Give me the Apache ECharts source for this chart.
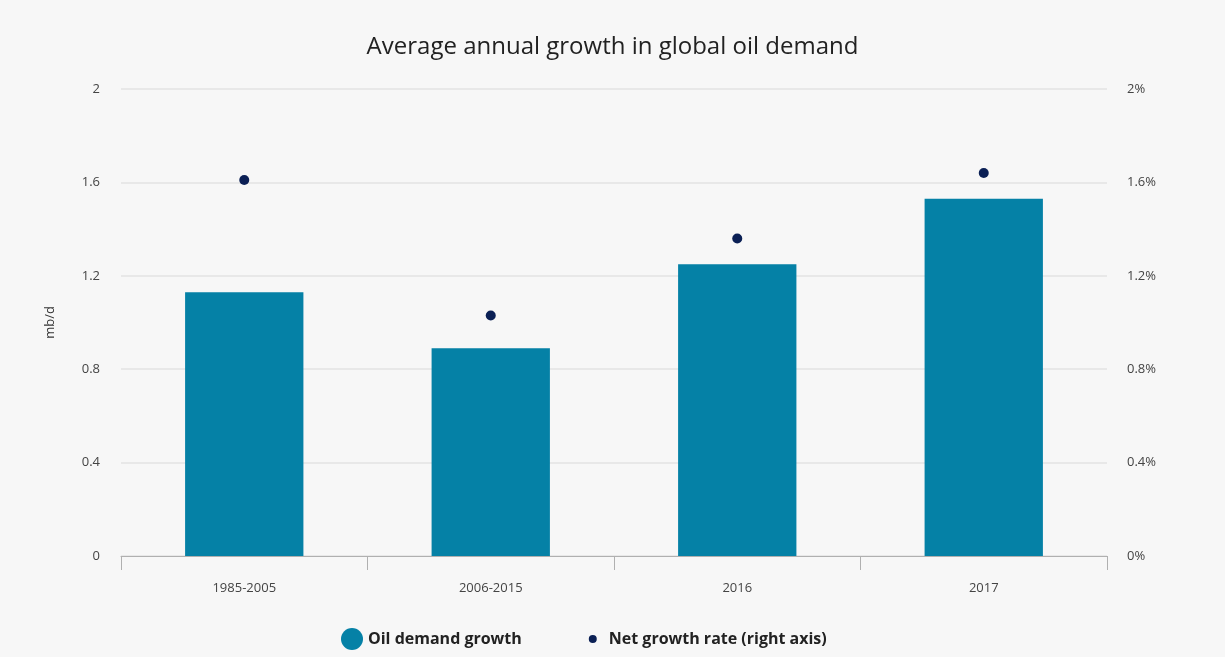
<!DOCTYPE html>
<html>
<head>
<meta charset="utf-8">
<script src="https://cdn.jsdelivr.net/npm/echarts@6/dist/echarts.min.js"></script>
<style>
html,body{margin:0;padding:0;background:#f7f7f7;}
#chart{width:1225px;height:657px;}
</style>
</head>
<body>
<div id="chart"></div>
<script>
const categories = ['1985-2005', '2006-2015', '2016', '2017'];
const oilDemandGrowth = [1.13, 0.89, 1.25, 1.53];
const netGrowthRate = [1.61, 1.03, 1.36, 1.64];
const leftTicks = [0, 0.4, 0.8, 1.2, 1.6, 2];

const chart = echarts.init(document.getElementById('chart'));
const font = '"Open Sans", "Noto Sans", sans-serif';
chart.setOption({
  backgroundColor: '#f7f7f7',
  animation: false,
  title: {
    text: 'Average annual growth in global oil demand',
    left: 'center',
    top: 30,
    textStyle: {fontFamily: font, fontSize: 24, fontWeight: 'normal', color: '#222'}
  },
  legend: {
    bottom: 2,
    left: 336,
    itemGap: 60,
    itemWidth: 22,
    itemHeight: 22,
    textStyle: {fontFamily: font, fontSize: 16, fontWeight: 'bold', color: '#222'},
    data: [
      {name: 'Oil demand growth', icon: 'circle', itemStyle: {color: '#0581a6'}},
      {name: 'Net growth rate (right axis)',
       icon: 'path://M7,11 A4,4 0 1,1 15,11 A4,4 0 1,1 7,11 Z M0,0 L0,0 Z M22,22 L22,22 Z',
       itemStyle: {color: '#0b2055'}}
    ]
  },
  grid: {left: 121, right: 118, top: 89, bottom: 101},
  xAxis: {
    type: 'category',
    data: categories,
    axisLine: {show: true, lineStyle: {color: '#b0b0b0'}},
    axisTick: {show: true, length: 14, lineStyle: {color: '#b0b0b0'}},
    axisLabel: {fontFamily: font, fontSize: 13, color: '#444', margin: 26}
  },
  yAxis: [
    {
      type: 'value', min: 0, max: 2, interval: 0.4,
      name: 'mb/d', nameLocation: 'middle', nameGap: 64, nameRotate: 90,
      nameTextStyle: {fontFamily: font, fontSize: 13, color: '#333'},
      axisLine: {show: false}, axisTick: {show: false},
      axisLabel: {fontFamily: font, fontSize: 13, color: '#444', margin: 21,
        formatter: v => String(Math.round(v * 10) / 10)},
      splitLine: {lineStyle: {color: '#e3e3e3', width: 1.5}}
    },
    {
      type: 'value', min: 0, max: 2, interval: 0.4,
      axisLine: {show: false}, axisTick: {show: false},
      axisLabel: {fontFamily: font, fontSize: 13, color: '#444', margin: 20,
        formatter: v => (Math.round(v * 10) / 10) + '%'},
      splitLine: {show: false}
    }
  ],
  series: [
    {
      name: 'Oil demand growth', type: 'bar', data: oilDemandGrowth,
      barWidth: '48%', itemStyle: {color: '#0581a6'}, yAxisIndex: 0
    },
    {
      name: 'Net growth rate (right axis)', type: 'scatter', data: netGrowthRate,
      yAxisIndex: 1, symbolSize: 10, itemStyle: {color: '#0b2055', opacity: 1}
    }
  ]
});
</script>
</body>
</html>
